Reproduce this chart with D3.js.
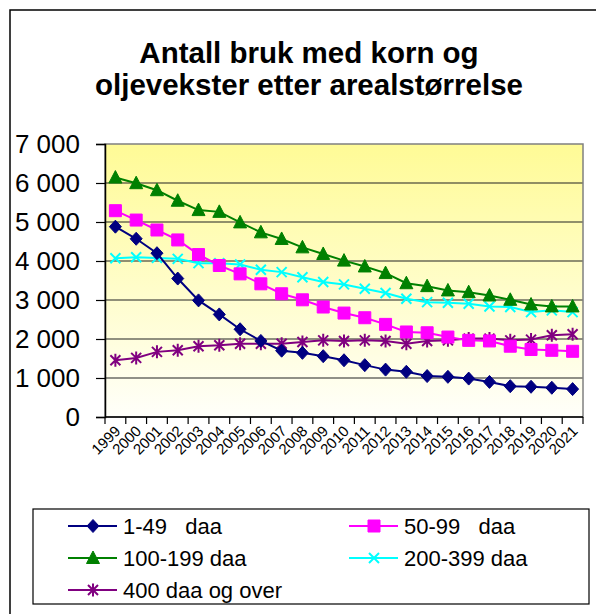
<!DOCTYPE html>
<html><head><meta charset="utf-8">
<script src="https://cdn.jsdelivr.net/npm/d3@7"></script>
<style>body{margin:0;background:#fff}svg{display:block}text{font-family:"Liberation Sans",Arial,sans-serif}</style>
</head><body><svg id="c" width="596" height="614"></svg>
<script>
const years = ["1999","2000","2001","2002","2003","2004","2005","2006","2007","2008","2009","2010","2011","2012","2013","2014","2015","2016","2017","2018","2019","2020","2021"];
const s1_49 = [4880,4570,4200,3550,2990,2630,2250,1950,1700,1645,1560,1455,1330,1215,1160,1050,1030,985,900,790,775,750,715];
const s50_99 = [5290,5050,4795,4540,4165,3885,3670,3415,3160,3005,2820,2665,2545,2375,2180,2160,2050,1965,1950,1815,1730,1710,1685];
const s100_199 = [6140,5995,5815,5545,5305,5260,4990,4735,4565,4350,4180,4010,3860,3690,3430,3355,3245,3200,3115,3005,2885,2835,2835];
const s200_399 = [4070,4095,4080,4055,3945,3945,3910,3775,3715,3585,3460,3400,3290,3180,3030,2945,2930,2905,2835,2820,2690,2735,2690];
const s400 = [1455,1515,1670,1710,1815,1840,1880,1880,1880,1925,1965,1950,1965,1950,1880,1950,1965,2010,2010,1965,1985,2095,2120];
const seriesNames = ["1-49   daa","50-99   daa","100-199 daa","200-399 daa","400 daa og over"];
const yTicks = [0,1000,2000,3000,4000,5000,6000,7000];
const titleLines = ["Antall bruk med korn og","oljevekster etter arealstørrelse"];

const svg = d3.select("#c");
const L=105,R=583,T=144,B=417;

// outer frame
svg.append("rect").attr("x",10).attr("y",10).attr("width",620).attr("height",640)
  .attr("fill","none").attr("stroke","#000").attr("stroke-width",1.5);

// title
svg.append("text").attr("x",309).attr("y",0).attr("text-anchor","middle")
  .attr("font-weight","bold").attr("font-size",29.5)
  .selectAll("tspan").data(titleLines).join("tspan")
  .attr("x",309).attr("y",(d,i)=>63+i*32).text(d=>d);

const x = d3.scaleBand().domain(years).range([L,R]);
const y = d3.scaleLinear().domain([0,7000]).range([B,T]);

// background gradient
const defs = svg.append("defs");
const g = defs.append("linearGradient").attr("id","bg").attr("x1",0).attr("y1",0).attr("x2",0).attr("y2",1);
g.append("stop").attr("offset","0%").attr("stop-color","#FFFB96");
g.append("stop").attr("offset","55%").attr("stop-color","#FFFDCC");
g.append("stop").attr("offset","100%").attr("stop-color","#FFFFFA");
svg.append("rect").attr("x",L).attr("y",T).attr("width",R-L).attr("height",B-T).attr("fill","url(#bg)");

// gridlines
svg.append("g").selectAll("line").data(yTicks.filter(v=>v>0&&v<7000)).join("line")
  .attr("x1",L).attr("x2",R).attr("y1",d=>y(d)).attr("y2",d=>y(d))
  .attr("stroke","#222").attr("stroke-width",1.2);
// plot border
svg.append("rect").attr("x",L).attr("y",T).attr("width",R-L).attr("height",B-T)
  .attr("fill","none").attr("stroke","#808080").attr("stroke-width",1.5);

// y axis
const ya = svg.append("g").attr("transform",`translate(${L},0)`)
  .call(d3.axisLeft(y).tickValues(yTicks).tickSize(9).tickPadding(16)
    .tickFormat(d=>d3.format(",")(d).replace(/,/g," ")));
ya.select(".domain").attr("stroke","#000").attr("stroke-width",1.5);
ya.selectAll(".tick line").attr("stroke","#000").attr("stroke-width",1.2);
ya.selectAll("text").attr("font-size",26).attr("fill","#000").attr("font-family","Liberation Sans, Arial, sans-serif");

// x axis
const xa = svg.append("g").attr("transform",`translate(0,${B})`);
xa.append("line").attr("x1",L).attr("x2",R).attr("stroke","#000").attr("stroke-width",1.5);
const edges = years.map(d=>x(d)).concat([R]);
xa.selectAll("line.t").data(edges).join("line").attr("class","t")
  .attr("x1",d=>d).attr("x2",d=>d).attr("y1",0).attr("y2",7).attr("stroke","#000").attr("stroke-width",1.2);
xa.selectAll("text").data(years).join("text")
  .attr("transform",d=>`translate(${x(d)+x.bandwidth()/2+6},${15}) rotate(-45)`)
  .attr("text-anchor","end").attr("font-size",15).attr("fill","#000").text(d=>d);

// series
const sym = {
  diamond: "M0,-6.5L6,0L0,6.5L-6,0Z",
  square: "M-6,-6H6V6H-6Z",
  triangle: "M0,-7L6.5,5.5L-6.5,5.5Z",
  xmark: "M-5,-5L5,5M-5,5L5,-5",
  star: "M-5,-5L5,5M-5,5L5,-5M0,-6.5V6.5"
};
const series = [
  {name:seriesNames[0], vals:s1_49, color:"#000080", m:"diamond", fill:true},
  {name:seriesNames[1], vals:s50_99, color:"#FF00FF", m:"square", fill:true},
  {name:seriesNames[2], vals:s100_199, color:"#008000", m:"triangle", fill:true},
  {name:seriesNames[3], vals:s200_399, color:"#00FFFF", m:"xmark", fill:false},
  {name:seriesNames[4], vals:s400, color:"#800080", m:"star", fill:false}
];
const line = d3.line().x((d,i)=>x(years[i])+x.bandwidth()/2).y(d=>y(d));
const drawOrder = [4,3,2,1,0];
drawOrder.forEach(k=>{
  const s = series[k];
  const gg = svg.append("g");
  gg.append("path").attr("d",line(s.vals)).attr("fill","none").attr("stroke",s.color).attr("stroke-width",2);
  gg.selectAll("path.m").data(s.vals).join("path").attr("class","m")
    .attr("transform",(d,i)=>`translate(${x(years[i])+x.bandwidth()/2},${y(d)})`)
    .attr("d",sym[s.m])
    .attr("fill",s.fill?s.color:"none").attr("stroke",s.color).attr("stroke-width",s.fill?1:2);
});

// legend
svg.append("rect").attr("x",33).attr("y",509).attr("width",556).attr("height",95)
  .attr("fill","#fff").attr("stroke","#000").attr("stroke-width",1.2);
const lpos = [[68,526],[349,526],[68,558],[349,558],[68,590]];
series.forEach((s,k)=>{
  const [lx,ly] = lpos[k];
  const gg = svg.append("g").attr("transform",`translate(${lx},${ly})`);
  gg.append("line").attr("x1",0).attr("x2",49).attr("stroke",s.color).attr("stroke-width",2);
  gg.append("path").attr("transform","translate(25,0)").attr("d",sym[s.m])
    .attr("fill",s.fill?s.color:"none").attr("stroke",s.color).attr("stroke-width",s.fill?1:2);
  gg.append("text").attr("x",55).attr("y",8).attr("font-size",22).attr("fill","#000")
    .attr("xml:space","preserve").style("white-space","pre").text(s.name);
});
</script></body></html>
